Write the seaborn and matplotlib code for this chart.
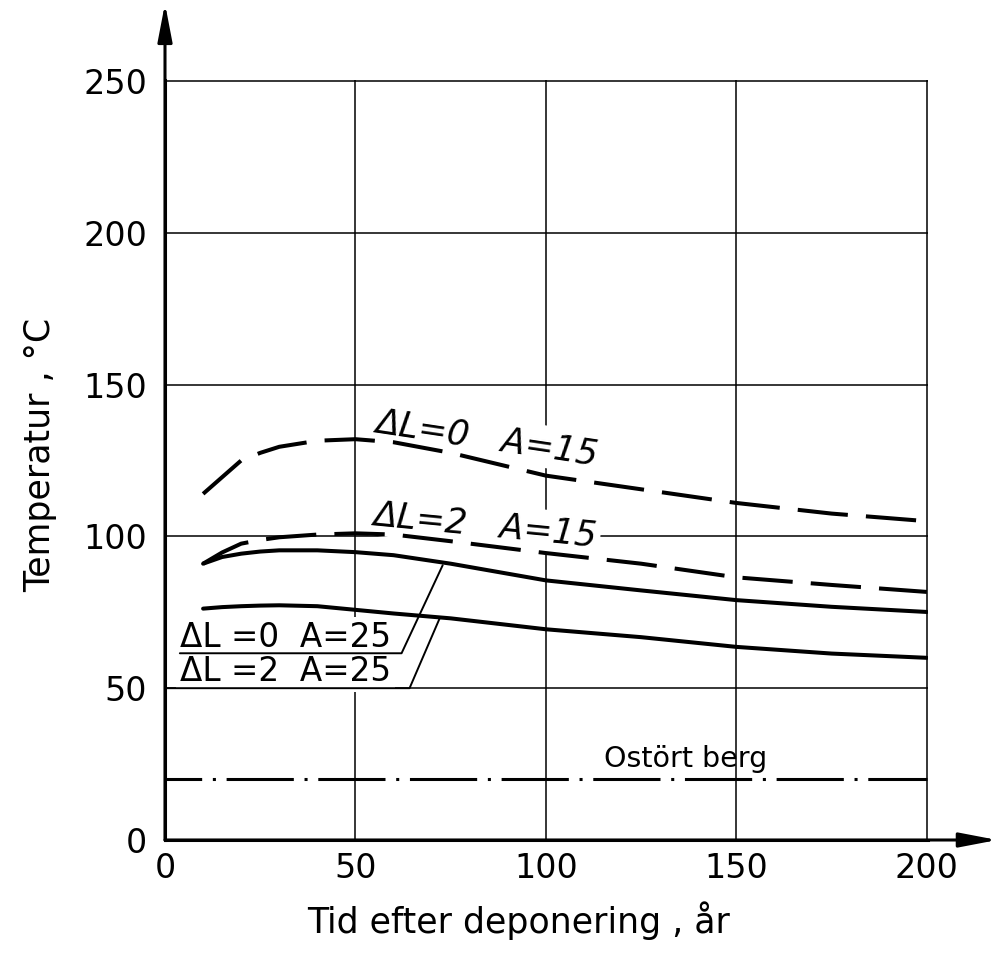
import matplotlib
matplotlib.use("Agg")
import matplotlib.pyplot as plt
import seaborn as sns

# --- Data ---
years = [10, 15, 20, 25, 30, 40, 50, 60, 75, 100, 125, 150, 175, 200]
temp_dl0_a15 = [114, 119.5, 125, 127.5, 129.5, 131.5, 132, 131, 127.5, 120, 115.5, 111, 107.5, 105]
temp_dl2_a15 = [91, 94.7, 97.6, 98.8, 99.7, 100.6, 101, 100.6, 98.4, 94.5, 91, 86.5, 84, 81.7]
temp_dl0_a25 = [91, 93.2, 94.3, 95, 95.4, 95.4, 94.8, 93.8, 91, 85.5, 82.2, 79, 76.8, 75.1]
temp_dl2_a25 = [76.2, 76.7, 77, 77.2, 77.3, 77, 75.8, 74.6, 73, 69.4, 66.8, 63.6, 61.4, 60]
rock_years = [0, 200]
rock_temp = [20, 20]

x_ticks = [0, 50, 100, 150, 200]
y_ticks = [0, 50, 100, 150, 200, 250]
x_label = "Tid efter deponering , år"
y_label = "Temperatur , °C"

# --- Style ---
sns.set_theme(style="white")
plt.rcParams["font.family"] = ["DejaVu Sans"]
plt.rcParams["text.color"] = "black"
plt.rcParams["axes.labelcolor"] = "black"

fig = plt.figure(figsize=(9.93, 9.6), dpi=100)
ax = fig.add_axes([165 / 993, 1 - 840 / 960, 763 / 993, 760 / 960])

lw_curve = 2.9
sns.lineplot(x=years, y=temp_dl0_a15, ax=ax, color="black", linewidth=lw_curve,
             linestyle=(0, (12.5, 4.5)), zorder=3)
sns.lineplot(x=years, y=temp_dl2_a15, ax=ax, color="black", linewidth=lw_curve,
             linestyle=(0, (12.5, 4.5)), zorder=3)
sns.lineplot(x=years, y=temp_dl0_a25, ax=ax, color="black", linewidth=lw_curve, zorder=3)
sns.lineplot(x=years, y=temp_dl2_a25, ax=ax, color="black", linewidth=lw_curve, zorder=3)
sns.lineplot(x=rock_years, y=rock_temp, ax=ax, color="black", linewidth=2.2,
             linestyle=(10, (22, 3.5, 1, 3.5)), zorder=3)

# --- Axes, grid, arrows ---
ax.set_xlim(0, 200.3)
ax.set_ylim(0, 250.3)
ax.set_xticks(x_ticks)
ax.set_yticks(y_ticks)
ax.grid(True, color="black", linewidth=1.1)
ax.set_axisbelow(True)
for side in ["top", "right"]:
    ax.spines[side].set_visible(False)
for side in ["left", "bottom"]:
    ax.spines[side].set_color("black")
    ax.spines[side].set_linewidth(2.2)
ax.tick_params(length=0, labelsize=24, colors="black")
ax.tick_params(axis="y", pad=13)
ax.tick_params(axis="x", pad=9)

arrow = dict(arrowstyle="-|>,head_length=1.15,head_width=0.22", lw=2.2, color="black",
             shrinkA=0, shrinkB=0, mutation_scale=20)
ax.annotate("", xy=(0, 275.5), xytext=(0, 0), arrowprops=arrow, annotation_clip=False)
ax.annotate("", xy=(218.5, 0), xytext=(0, 0), arrowprops=arrow, annotation_clip=False)

ax.set_xlabel(x_label, fontsize=25)
ax.set_ylabel(y_label, fontsize=25)
ax.xaxis.set_label_coords(0.463, -0.081)
ax.yaxis.set_label_coords(-0.142, 0.507)

# --- Curve labels ---
white_box = dict(facecolor="white", edgecolor="none", pad=3)
ax.text(55.0, 134.6, "ΔL=0   A=15", fontsize=25, style="italic", rotation=-8.5,
        rotation_mode="anchor", ha="left", va="baseline", bbox=white_box, zorder=2.5)
ax.text(54.3, 104.0, "ΔL=2   A=15", fontsize=25, style="italic", rotation=-5.5,
        rotation_mode="anchor", ha="left", va="baseline", bbox=white_box, zorder=2.5)
ax.text(3.9, 63.5, "ΔL =0  A=25", fontsize=23.5, ha="left", va="baseline",
        bbox=white_box, zorder=2.5)
ax.text(3.9, 52.3, "ΔL =2  A=25", fontsize=23.5, ha="left", va="baseline",
        bbox=white_box, zorder=2.5)
ax.text(115.3, 24.0, "Ostört berg", fontsize=20.5, ha="left", va="baseline", zorder=2.5)

# underlines with leaders to the solid curves
ax.plot([3.9, 62.1, 72.9], [61.5, 61.5, 90.5], color="black", lw=1.4, zorder=3, clip_on=False)
ax.plot([0, 64.2, 72.1], [50, 50, 73.0], color="black", lw=1.4, zorder=3, clip_on=False)

fig.savefig("out.png", dpi=100)
